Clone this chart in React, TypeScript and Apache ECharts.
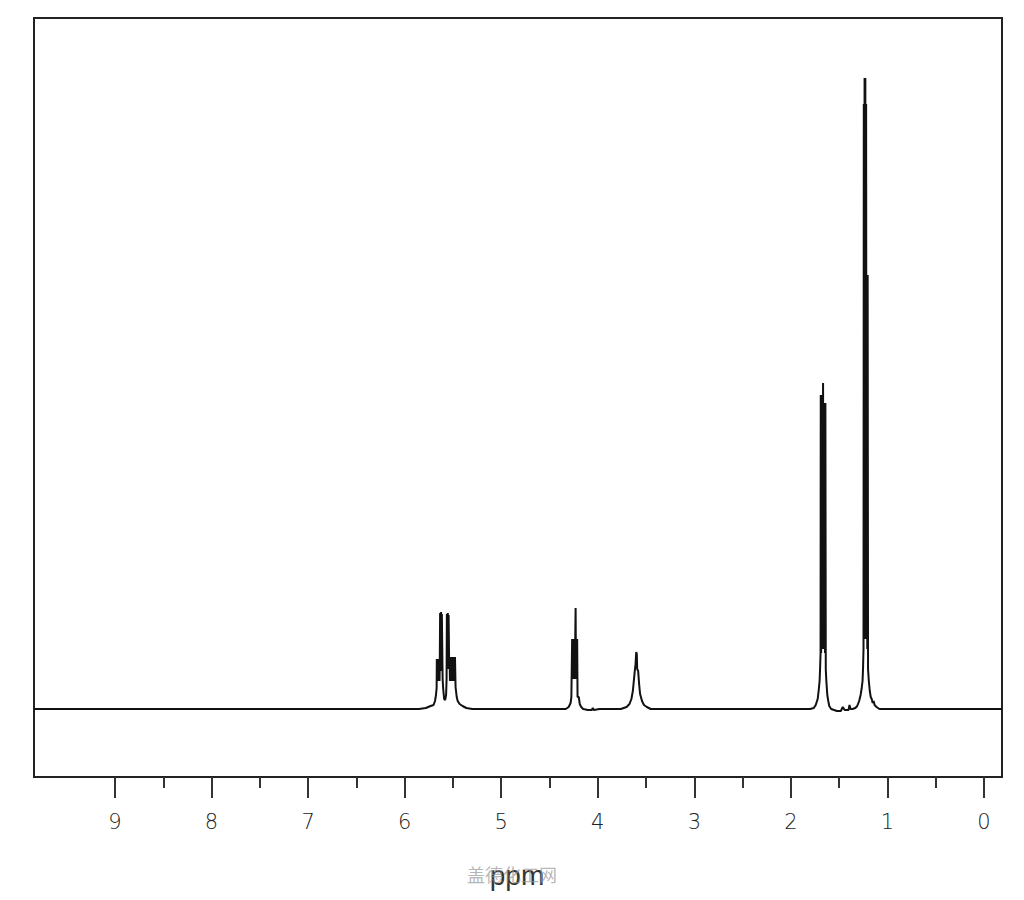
import React, { useEffect, useRef } from "react";
import * as echarts from "echarts";

// Axis tick labels (ppm)
const tickValues = [0, 1, 2, 3, 4, 5, 6, 7, 8, 9];
const axisRange = [-0.19, 9.84];
const yRange = [-68, 691];

// Spectrum points [ppm, intensity], per multiplet
const baseLeft: number[][] = [
  [9.84, 0], [8.0, 0], [6.5, 0], [5.9, 0],
];
const multiplet56: number[][] = [
  [5.85, 0], [5.78, 1], [5.73, 3], [5.7, 4], [5.685, 8], [5.675, 14], [5.668, 21],
  [5.666, 50], [5.662, 28], [5.658, 50], [5.654, 28], [5.65, 50], [5.646, 28],
  [5.642, 50], [5.638, 28], [5.635, 52], [5.632, 96], [5.628, 40], [5.622, 97],
  [5.618, 38], [5.614, 95], [5.606, 30], [5.6, 20], [5.59, 10], [5.58, 9],
  [5.57, 14], [5.565, 30], [5.562, 95], [5.556, 40], [5.552, 96], [5.548, 40],
  [5.544, 94], [5.538, 40], [5.534, 52], [5.53, 28], [5.526, 52], [5.522, 28],
  [5.518, 52], [5.514, 28], [5.51, 52], [5.506, 28], [5.502, 52], [5.498, 28],
  [5.494, 52], [5.49, 28], [5.486, 52], [5.482, 28], [5.478, 52],
  [5.472, 22], [5.46, 12], [5.45, 8], [5.43, 5], [5.4, 3], [5.36, 1], [5.3, 0],
];
const baseMid1: number[][] = [[4.6, 0], [4.4, 0]];
const multiplet42: number[][] = [
  [4.33, 0], [4.3, 2], [4.28, 6], [4.272, 12], [4.268, 12], [4.264, 70], [4.26, 30],
  [4.256, 70], [4.252, 30], [4.248, 70], [4.244, 30], [4.24, 70], [4.236, 30],
  [4.232, 70], [4.228, 101], [4.224, 30], [4.22, 70], [4.216, 30], [4.212, 70],
  [4.208, 12], [4.195, 12], [4.185, 5], [4.17, 2],
  [4.15, 0], [4.1, -1], [4.06, -1], [4.05, 1], [4.04, -1], [3.98, 0],
];
const multiplet36: number[][] = [
  [3.76, 0], [3.7, 2], [3.67, 5], [3.65, 10], [3.635, 18], [3.625, 28], [3.615, 38],
  [3.607, 45], [3.6, 57], [3.594, 55], [3.59, 40], [3.58, 38], [3.57, 25],
  [3.56, 15], [3.54, 8], [3.52, 4], [3.49, 2], [3.45, 0], [3.3, 0],
];
const baseMid2: number[][] = [[2.5, 0], [1.85, 0]];
const multiplet17: number[][] = [
  [1.8, 0], [1.76, 1], [1.74, 4], [1.72, 10], [1.71, 18], [1.7, 28], [1.695, 40],
  [1.69, 56], [1.688, 314], [1.684, 56], [1.68, 314], [1.676, 60], [1.672, 314],
  [1.668, 60], [1.664, 326], [1.66, 60], [1.656, 306], [1.652, 60], [1.648, 306],
  [1.644, 56], [1.64, 306], [1.636, 40], [1.63, 28], [1.62, 14], [1.61, 8],
  [1.6, 3], [1.58, 0], [1.52, -2], [1.48, -2], [1.46, 2], [1.44, -1], [1.4, -1],
  [1.39, 4], [1.38, 0],
];
const multiplet12: number[][] = [
  [1.36, 0], [1.33, 1], [1.31, 3], [1.29, 8], [1.275, 14], [1.265, 20], [1.255, 28],
  [1.25, 40], [1.245, 60], [1.242, 605], [1.238, 70], [1.234, 631], [1.23, 70],
  [1.226, 631], [1.222, 80], [1.218, 605], [1.214, 70], [1.21, 434], [1.206, 60],
  [1.202, 434], [1.198, 40], [1.19, 28], [1.18, 18], [1.17, 12], [1.16, 10],
  [1.15, 6], [1.14, 8], [1.13, 4], [1.11, 2], [1.08, 0],
];
const baseRight: number[][] = [[0.9, 0], [0.5, 0], [-0.19, 0]];

const spectrum = [
  ...baseLeft, ...multiplet56, ...baseMid1, ...multiplet42, ...multiplet36,
  ...baseMid2, ...multiplet17, ...multiplet12, ...baseRight,
];

export default function App() {
  const ref = useRef<HTMLDivElement>(null);
  useEffect(() => {
    if (!ref.current) return;
    const chart = echarts.init(ref.current, undefined, { renderer: "svg" });
    chart.setOption({
      animation: false,
      backgroundColor: "#ffffff",
      grid: [
        {
          left: 34, top: 18, width: 968, height: 759,
          show: true, borderColor: "#222", borderWidth: 2,
        },
        { left: 115, top: 18, width: 869, height: 759, show: false },
      ],
      xAxis: [
        {
          gridIndex: 0, type: "value", min: axisRange[0], max: axisRange[1], inverse: true,
          axisLine: { show: false }, axisTick: { show: false }, axisLabel: { show: false },
          splitLine: { show: false },
        },
        {
          gridIndex: 1, type: "value", min: tickValues[0], max: tickValues[tickValues.length - 1],
          interval: 1, inverse: true,
          axisLine: { show: false },
          axisTick: { show: true, length: 21, lineStyle: { color: "#333", width: 2 } },
          minorTick: { show: true, splitNumber: 2, length: 11, lineStyle: { color: "#333", width: 2 } },
          axisLabel: {
            show: true, fontSize: 21, color: "#222", margin: 34,
            fontFamily: "DejaVu Sans", fontWeight: 300,
          },
          splitLine: { show: false },
          minorSplitLine: { show: false },
        },
      ],
      yAxis: [
        { gridIndex: 0, type: "value", min: yRange[0], max: yRange[1], show: false },
        { gridIndex: 1, type: "value", min: 0, max: 1, show: false },
      ],
      series: [
        {
          type: "line", xAxisIndex: 0, yAxisIndex: 0, data: spectrum,
          showSymbol: false, symbol: "none",
          lineStyle: { color: "#111", width: 2 },
        },
        { type: "line", xAxisIndex: 1, yAxisIndex: 1, data: [], showSymbol: false },
      ],
      graphic: [
        {
          type: "text", x: 517, y: 875, z: 10,
          style: {
            text: "ppm", fontSize: 28, fill: "#333", fontFamily: "Liberation Sans",
            align: "center", verticalAlign: "middle",
          },
        },
        {
          type: "text", x: 512, y: 874, z: 11,
          style: {
            text: "盖德化工网", fontSize: 18, fill: "rgba(150,150,150,0.7)",
            fontFamily: "Noto Sans CJK SC", align: "center", verticalAlign: "middle",
          },
        },
      ],
    });
    return () => chart.dispose();
  }, []);
  return (
    <div
      ref={ref}
      style={{ position: "absolute", left: 0, top: 0, width: 1024, height: 900 }}
    />
  );
}
